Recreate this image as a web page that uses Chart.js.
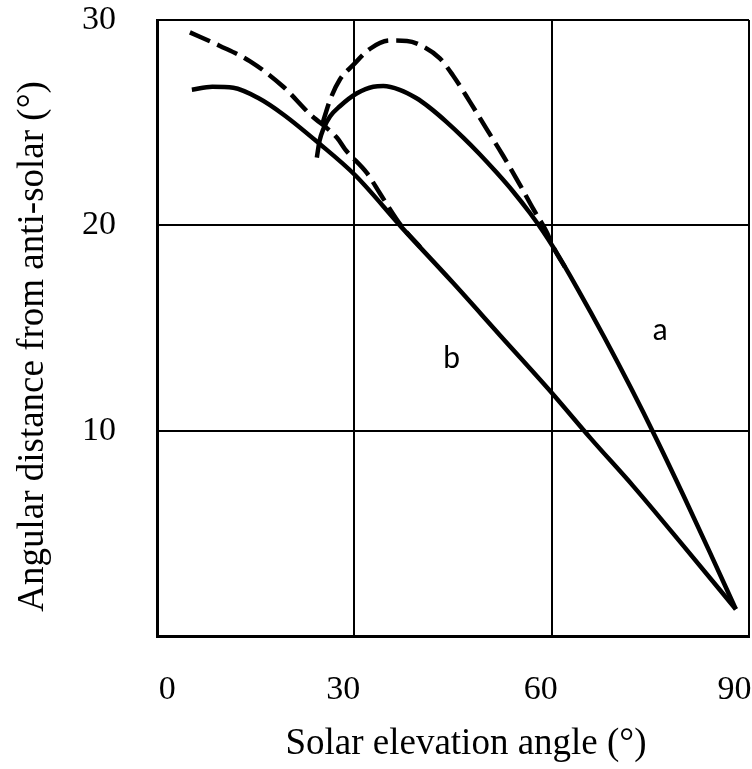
<!DOCTYPE html>
<html>
<head>
<meta charset="utf-8">
<script src="https://cdn.jsdelivr.net/npm/chart.js@4/dist/chart.umd.min.js"></script>
<style>
  html, body { margin: 0; padding: 0; background: #fff; }
  #wrap { width: 752px; height: 769px; }
</style>
</head>
<body>
<div id="wrap"><canvas id="chart" width="752" height="769"></canvas></div>
<script>
// === Data ===
const xTicks = [0, 30, 60, 90];
const yTicks = [0, 10, 20, 30];

// curve a, solid
const aSolidX = [24.3, 24.7, 25.3, 26.3, 27.8, 30.4, 32.9, 34.4, 36.9, 39.4, 41.5, 44.0, 46.6, 49.1, 51.6, 54.1, 56.7, 58.7, 60.4, 64.0, 68.0, 72.0, 76.0, 80.0, 84.0, 88.0];
const aSolidY = [23.3, 24.1, 24.7, 25.3, 25.8, 26.43, 26.75, 26.78, 26.6, 26.2, 25.72, 25.04, 24.26, 23.45, 22.58, 21.66, 20.6, 19.7, 18.85, 16.87, 14.55, 12.11, 9.55, 6.87, 4.11, 1.3];

// curve a, dashed
const aDashX = [25.1, 26.3, 27.8, 29.8, 32.4, 35.4, 38.0, 40.5, 43.0, 45.0, 47.6, 50.1, 52.6, 55.2, 57.2, 59.2, 60.4, 62.0];
const aDashY = [24.9, 26.1, 27.1, 27.8, 28.6, 29.0, 28.98, 28.7, 28.13, 27.3, 26.0, 24.7, 23.4, 21.96, 20.8, 19.7, 18.85, 17.97];

// curve b, solid
const bSolidX = [5.3, 8.4, 11.6, 15.4, 19.2, 24.6, 30.1, 37.2, 45.0, 52.0, 60.0, 66.0, 72.4, 80.0, 88.0];
const bSolidY = [26.6, 26.75, 26.7, 26.2, 25.4, 24.0, 22.45, 19.9, 17.2, 14.7, 11.85, 9.6, 7.3, 4.4, 1.3];

// curve b, dashed
const bDashX = [5.0, 9.5, 14.1, 19.2, 23.3, 27.4, 28.6, 31.9, 34.0, 37.2, 40.0];
const bDashY = [29.4, 28.75, 28.0, 26.75, 25.4, 24.25, 23.7, 22.55, 21.5, 19.95, 18.95];

// curve labels
const curveLabels = ["a", "b"];
const curveLabelX = [76.5, 44.8];
const curveLabelY = [14.9, 13.5];

const toPoints = (xs, ys) => xs.map((x, i) => ({ x: x, y: ys[i] }));

const lineStyle = (xs, ys, dashed) => ({
  data: toPoints(xs, ys),
  showLine: true,
  borderColor: "#000",
  borderWidth: 4.5,
  borderDash: dashed ? [22, 8] : [],
  pointRadius: 0,
  cubicInterpolationMode: "monotone",
  fill: false
});

// draws the "a" / "b" marks at data positions
const curveLabelPlugin = {
  id: "curveLabels",
  afterDatasetsDraw(chart) {
    const ctx = chart.ctx;
    const xs = chart.scales.x, ys = chart.scales.y;
    ctx.save();
    ctx.fillStyle = "#000";
    ctx.font = "30px Lato, 'Open Sans', sans-serif";
    ctx.textAlign = "center";
    ctx.textBaseline = "middle";
    curveLabels.forEach((t, i) => {
      ctx.fillText(t, xs.getPixelForValue(curveLabelX[i]), ys.getPixelForValue(curveLabelY[i]));
    });
    ctx.restore();
  }
};

const serif = "'Liberation Serif', 'Times New Roman', serif";

// x labels sit a little left of their grid lines in the original
const xLabel = (v) => {
  if (v === 0) return "\u2007\u2007\u20080";
  if (v === 90) return "90\u2009";
  return String(v);
};

new Chart(document.getElementById("chart").getContext("2d"), {
  type: "scatter",
  data: {
    datasets: [
      lineStyle(bSolidX, bSolidY, false),
      lineStyle(bDashX, bDashY, true),
      lineStyle(aSolidX, aSolidY, false),
      lineStyle(aDashX, aDashY, true)
    ]
  },
  options: {
    responsive: false,
    animation: false,
    layout: { padding: { top: 20, right: 3, left: 0, bottom: 0 } },
    plugins: {
      legend: { display: false },
      tooltip: { enabled: false }
    },
    scales: {
      x: {
        type: "linear",
        min: xTicks[0],
        max: xTicks[xTicks.length - 1],
        afterBuildTicks: (s) => { s.ticks = xTicks.map(v => ({ value: v })); },
        afterFit: (s) => { s.height = 133; s.paddingLeft = 0; s.paddingRight = 0; },
        grid: { color: "#000", lineWidth: 2, drawTicks: false },
        border: { color: "#000", width: 3 },
        ticks: {
          padding: 34,
          labelOffset: -11,
          color: "#000",
          font: { family: serif, size: 34 },
          callback: xLabel
        },
        title: {
          display: true,
          text: "\u2002\u2009Solar elevation angle (°)",
          color: "#000",
          font: { family: serif, size: 37 },
          padding: { top: 0, bottom: 3 }
        }
      },
      y: {
        type: "linear",
        min: yTicks[0],
        max: yTicks[yTicks.length - 1],
        afterBuildTicks: (s) => { s.ticks = yTicks.map(v => ({ value: v })); },
        afterFit: (s) => { s.width = 157; s.paddingTop = 0; s.paddingBottom = 0; },
        grid: { color: "#000", lineWidth: 2, drawTicks: false },
        border: { color: "#000", width: 3 },
        ticks: {
          padding: 41,
          color: "#000",
          font: { family: serif, size: 34 },
          callback: (v) => v === 0 ? "" : String(v)
        },
        title: {
          display: true,
          text: "Angular distance from anti-solar (°)\u2003",
          color: "#000",
          font: { family: serif, size: 37 },
          padding: { top: 11, bottom: 0 }
        }
      }
    }
  },
  plugins: [curveLabelPlugin]
});
</script>
</body>
</html>
